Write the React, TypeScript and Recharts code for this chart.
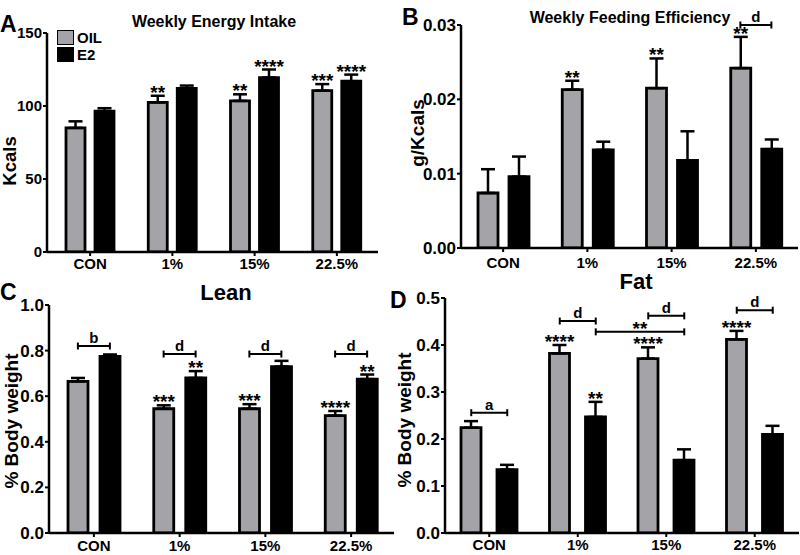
import {
  Bar,
  BarChart,
  ErrorBar,
  LabelList,
  Legend,
  ReferenceLine,
  XAxis,
  YAxis,
} from "recharts";

const FONT = "'Liberation Sans', Arial, sans-serif";
const GRAY = "#a4a4a8";

const categories = ["CON", "1%", "15%", "22.5%"];

// A: weekly energy intake (Kcals)
const intakeOil = [85, 102.5, 103.5, 110.5];
const intakeOilSem = [4.5, 4.5, 4.5, 4.5];
const intakeE2 = [96.5, 112, 119.5, 117];
const intakeE2Sem = [2, 2, 5.5, 4.5];
const intakeOilStars = ["", "**", "**", "***"];
const intakeE2Stars = ["", "", "****", "****"];

// B: weekly feeding efficiency (g/Kcals)
const effOil = [0.0074, 0.0213, 0.0215, 0.0242];
const effOilSem = [0.0032, 0.0012, 0.004, 0.0042];
const effE2 = [0.0096, 0.0132, 0.0118, 0.0133];
const effE2Sem = [0.0027, 0.0011, 0.0039, 0.0013];
const effOilStars = ["", "**", "**", "**"];
const effE2Stars = ["", "", "", ""];

// C: lean mass (% body weight)
const leanOil = [0.665, 0.545, 0.545, 0.515];
const leanOilSem = [0.015, 0.015, 0.02, 0.02];
const leanE2 = [0.775, 0.68, 0.73, 0.675];
const leanE2Sem = [0.008, 0.03, 0.025, 0.02];
const leanOilStars = ["", "***", "***", "****"];
const leanE2Stars = ["", "**", "", "**"];

// D: fat mass (% body weight)
const fatOil = [0.224, 0.382, 0.371, 0.412];
const fatOilSem = [0.014, 0.018, 0.024, 0.018];
const fatE2 = [0.135, 0.247, 0.155, 0.21];
const fatE2Sem = [0.01, 0.032, 0.023, 0.018];
const fatOilStars = ["", "****", "****", "****"];
const fatE2Stars = ["", "**", "", ""];

type Side = "oil" | "e2";
interface Bracket {
  from: string;
  fromSide: Side;
  to: string;
  toSide: Side;
  y: number;
  label: string;
}

const effBrackets: Bracket[] = [
  { from: "22.5%", fromSide: "oil", to: "22.5%", toSide: "e2", y: 0.03, label: "d" },
];
const leanBrackets: Bracket[] = [
  { from: "CON", fromSide: "oil", to: "CON", toSide: "e2", y: 0.82, label: "b" },
  { from: "1%", fromSide: "oil", to: "1%", toSide: "e2", y: 0.785, label: "d" },
  { from: "15%", fromSide: "oil", to: "15%", toSide: "e2", y: 0.785, label: "d" },
  { from: "22.5%", fromSide: "oil", to: "22.5%", toSide: "e2", y: 0.785, label: "d" },
];
const fatBrackets: Bracket[] = [
  { from: "CON", fromSide: "oil", to: "CON", toSide: "e2", y: 0.256, label: "a" },
  { from: "1%", fromSide: "oil", to: "1%", toSide: "e2", y: 0.451, label: "d" },
  { from: "1%", fromSide: "e2", to: "15%", toSide: "e2", y: 0.428, label: "**" },
  { from: "15%", fromSide: "oil", to: "15%", toSide: "e2", y: 0.462, label: "d" },
  { from: "22.5%", fromSide: "oil", to: "22.5%", toSide: "e2", y: 0.474, label: "d" },
];

const textStyle = { fontFamily: FONT, fontWeight: 700, fill: "#000" };

function starLabel(stars: string[], values: number[], sems: number[]) {
  return (p: any) => {
    const i = p.index;
    const s = stars[i];
    if (!s) return null;
    const box = p.viewBox ?? p;
    const pxPerUnit = box.height / values[i];
    const top = box.y - sems[i] * pxPerUnit;
    return (
      <text
        x={box.x + box.width / 2}
        y={top + 3}
        textAnchor="middle"
        fontSize={19}
        {...textStyle}
      >
        {s}
      </text>
    );
  };
}

function bracketShape(b: Bracket, half: number) {
  const dx1 = b.fromSide === "oil" ? -half : half;
  const dx2 = b.toSide === "oil" ? -half : half;
  return (p: any) => {
    const x1 = p.x1 + dx1;
    const x2 = p.x2 + dx2;
    const y = p.y1;
    const big = b.label === "**";
    return (
      <g>
        <line x1={x1} x2={x2} y1={y} y2={y} stroke="#000" strokeWidth={2} />
        <line x1={x1} x2={x1} y1={y - 3.5} y2={y + 3.5} stroke="#000" strokeWidth={2} />
        <line x1={x2} x2={x2} y1={y - 3.5} y2={y + 3.5} stroke="#000" strokeWidth={2} />
        <text
          x={(x1 + x2) / 2}
          y={big ? y + 3 : y - 3}
          textAnchor="middle"
          fontSize={big ? 19 : 15}
          {...textStyle}
        >
          {b.label}
        </text>
      </g>
    );
  };
}

function LegendBox() {
  const items = [
    { name: "OIL", fill: GRAY },
    { name: "E2", fill: "#000" },
  ];
  return (
    <div>
      {items.map((it) => (
        <div key={it.name} style={{ display: "flex", alignItems: "center", height: 17 }}>
          <span
            style={{
              width: 15,
              height: 13,
              background: it.fill,
              border: "1.5px solid #000",
              marginRight: 3,
            }}
          />
          <span style={{ fontFamily: FONT, fontWeight: 700, fontSize: 15, lineHeight: "15px" }}>
            {it.name}
          </span>
        </div>
      ))}
    </div>
  );
}

function Panel({
  left,
  top,
  width,
  height,
  margin,
  padLeft,
  oil,
  oilSem,
  e2,
  e2Sem,
  oilStars,
  e2Stars,
  domain,
  ticks,
  digits,
  barSize,
  barGap,
  tickMargin,
  yFont,
  brackets = [],
  legend = false,
}: {
  left: number;
  top: number;
  width: number;
  height: number;
  margin: { top: number; right: number; bottom: number; left: number };
  padLeft: number;
  oil: number[];
  oilSem: number[];
  e2: number[];
  e2Sem: number[];
  oilStars: string[];
  e2Stars: string[];
  domain: [number, number];
  ticks: number[];
  digits: number;
  barSize: number;
  barGap: number;
  tickMargin: number;
  yFont: number;
  brackets?: Bracket[];
  legend?: boolean;
}) {
  const data = categories.map((c, i) => ({
    cat: c,
    oil: oil[i],
    oilSem: [0, oilSem[i]],
    e2: e2[i],
    e2Sem: [0, e2Sem[i]],
  }));
  const half = (barSize + barGap) / 2;

  return (
    <div style={{ position: "absolute", left, top }}>
      <BarChart
        width={width}
        height={height}
        data={data}
        margin={margin}
        barSize={barSize}
        barGap={barGap}
      >
        <XAxis
          dataKey="cat"
          height={22}
          padding={{ left: padLeft, right: 0 }}
          axisLine={{ stroke: "#000", strokeWidth: 2.5 }}
          tickLine={{ stroke: "#000", strokeWidth: 2 }}
          tickSize={4}
          tickMargin={tickMargin}
          tick={{ ...textStyle, fontSize: 15 }}
          interval={0}
        />
        <YAxis
          width={40}
          domain={domain}
          ticks={ticks}
          allowDataOverflow
          tickFormatter={(v: number) => (v === 0 && digits === 0 ? "0" : v.toFixed(digits))}
          axisLine={{ stroke: "#000", strokeWidth: 2.5 }}
          tickLine={{ stroke: "#000", strokeWidth: 2 }}
          tickSize={4}
          tickMargin={1}
          tick={{ ...textStyle, fontSize: yFont }}
        />
        {legend && (
          <Legend
            layout="vertical"
            align="center"
            verticalAlign="middle"
            content={() => <LegendBox />}
            wrapperStyle={{ position: "absolute", left: 57, top: 29, width: 60 }}
          />
        )}
        <Bar dataKey="oil" name="OIL" fill={GRAY} stroke="#000" strokeWidth={2.8} isAnimationActive={false}>
          <ErrorBar
            dataKey="oilSem"
            direction="y"
            width={7}
            stroke="#000"
            strokeWidth={2.5}
            isAnimationActive={false}
          />
          <LabelList dataKey="cat" content={starLabel(oilStars, oil, oilSem)} />
        </Bar>
        <Bar dataKey="e2" name="E2" fill="#000" stroke="#000" strokeWidth={2.8} isAnimationActive={false}>
          <ErrorBar
            dataKey="e2Sem"
            direction="y"
            width={7}
            stroke="#000"
            strokeWidth={2.5}
            isAnimationActive={false}
          />
          <LabelList dataKey="cat" content={starLabel(e2Stars, e2, e2Sem)} />
        </Bar>
        {brackets.map((b, i) => (
          <ReferenceLine
            key={i}
            segment={[
              { x: b.from, y: b.y },
              { x: b.to, y: b.y },
            ]}
            ifOverflow="visible"
            shape={bracketShape(b, half)}
          />
        ))}
      </BarChart>
    </div>
  );
}

export default function App() {
  return (
    <div
      style={{
        position: "absolute",
        left: 0,
        top: 0,
        width: 800,
        height: 555,
        background: "#fff",
        overflow: "hidden",
      }}
    >
      <Panel
        left={0}
        top={0}
        width={400}
        height={278}
        margin={{ top: 33, right: 22, bottom: 4, left: 7 }}
        padLeft={2}
        oil={intakeOil}
        oilSem={intakeOilSem}
        e2={intakeE2}
        e2Sem={intakeE2Sem}
        oilStars={intakeOilStars}
        e2Stars={intakeE2Stars}
        domain={[0, 150]}
        ticks={[0, 50, 100, 150]}
        digits={0}
        barSize={19}
        barGap={10}
        tickMargin={2}
        yFont={15}
        legend
      />
      <Panel
        left={400}
        top={0}
        width={400}
        height={278}
        margin={{ top: 25, right: 2, bottom: 8, left: 21 }}
        padLeft={0}
        oil={effOil}
        oilSem={effOilSem}
        e2={effE2}
        e2Sem={effE2Sem}
        oilStars={effOilStars}
        e2Stars={effE2Stars}
        domain={[0, 0.03]}
        ticks={[0, 0.01, 0.02, 0.03]}
        digits={2}
        barSize={20}
        barGap={11}
        tickMargin={5}
        yFont={17}
        brackets={effBrackets}
      />
      <Panel
        left={0}
        top={278}
        width={400}
        height={277}
        margin={{ top: 27, right: 6, bottom: 0, left: 9 }}
        padLeft={2}
        oil={leanOil}
        oilSem={leanOilSem}
        e2={leanE2}
        e2Sem={leanE2Sem}
        oilStars={leanOilStars}
        e2Stars={leanE2Stars}
        domain={[0, 1]}
        ticks={[0, 0.2, 0.4, 0.6, 0.8, 1.0]}
        digits={1}
        barSize={20}
        barGap={12}
        tickMargin={3}
        yFont={17}
        brackets={leanBrackets}
      />
      <Panel
        left={400}
        top={278}
        width={400}
        height={277}
        margin={{ top: 20, right: 1, bottom: 0, left: 5 }}
        padLeft={0}
        oil={fatOil}
        oilSem={fatOilSem}
        e2={fatE2}
        e2Sem={fatE2Sem}
        oilStars={fatOilStars}
        e2Stars={fatE2Stars}
        domain={[0, 0.5]}
        ticks={[0, 0.1, 0.2, 0.3, 0.4, 0.5]}
        digits={1}
        barSize={20}
        barGap={16}
        tickMargin={2}
        yFont={17}
        brackets={fatBrackets}
      />
      <svg
        width={800}
        height={555}
        style={{ position: "absolute", left: 0, top: 0, pointerEvents: "none" }}
      >
        <g style={{ fontFamily: FONT, fontWeight: 700 }} fill="#000">
          <text x={0} y={32} fontSize={23}>A</text>
          <text x={214} y={27} fontSize={16} textAnchor="middle">Weekly Energy Intake</text>
          <text transform="translate(16,161) rotate(-90)" fontSize={18.5} textAnchor="middle">Kcals</text>

          <text x={402} y={25} fontSize={23}>B</text>
          <text x={630} y={23} fontSize={16} textAnchor="middle">Weekly Feeding Efficiency</text>
          <text transform="translate(424,133) rotate(-90)" fontSize={19} textAnchor="middle">g/Kcals</text>

          <text x={0} y={300} fontSize={23}>C</text>
          <text x={226} y={300} fontSize={22} textAnchor="middle">Lean</text>
          <text transform="translate(18,421) rotate(-90)" fontSize={19} textAnchor="middle">% Body weight</text>

          <text x={390} y={308} fontSize={23}>D</text>
          <text x={636} y={289} fontSize={22} textAnchor="middle">Fat</text>
          <text transform="translate(411,420) rotate(-90)" fontSize={19} textAnchor="middle">% Body weight</text>
        </g>
      </svg>
    </div>
  );
}
